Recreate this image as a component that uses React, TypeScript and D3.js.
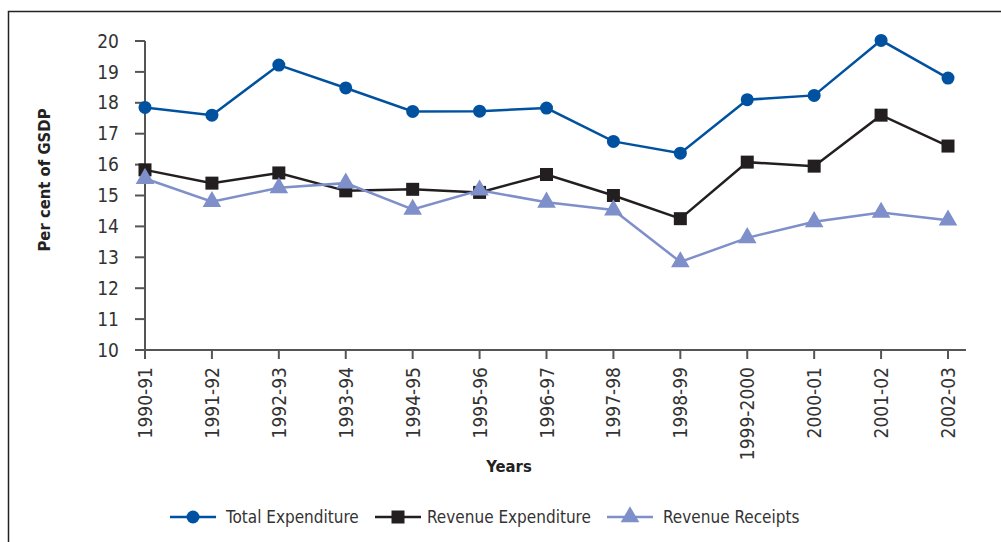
import React from "react";
import * as d3 from "d3";

const years = ["1990-91", "1991-92", "1992-93", "1993-94", "1994-95", "1995-96", "1996-97", "1997-98", "1998-99", "1999-2000", "2000-01", "2001-02", "2002-03"];
const totalExpenditure = [17.85, 17.6, 19.22, 18.48, 17.72, 17.73, 17.83, 16.75, 16.37, 18.1, 18.24, 20.02, 18.8];
const revenueExpenditure = [15.83, 15.4, 15.73, 15.15, 15.2, 15.1, 15.68, 15.0, 14.25, 16.08, 15.95, 17.6, 16.6];
const revenueReceipts = [15.55, 14.8, 15.25, 15.4, 14.55, 15.17, 14.78, 14.53, 12.85, 13.63, 14.15, 14.45, 14.2];
const yTicks = [10, 11, 12, 13, 14, 15, 16, 17, 18, 19, 20];

const font = "'DejaVu Sans Condensed', 'DejaVu Sans', sans-serif";

export default function App() {
  const W = 1001, H = 542;
  const x = d3.scalePoint<string>().domain(years).range([145, 948]);
  const y = d3.scaleLinear().domain([10, 20]).range([350, 41]);

  const series = [
    { name: "Total Expenditure", data: totalExpenditure, color: "#0052a0", shape: "circle", lx: 170, tx: 226 },
    { name: "Revenue Expenditure", data: revenueExpenditure, color: "#231f20", shape: "square", lx: 375, tx: 427 },
    { name: "Revenue Receipts", data: revenueReceipts, color: "#7e8fca", shape: "triangle", lx: 607, tx: 663 },
  ];

  const line = d3.line<number>().x((_, i) => x(years[i])!).y((d) => y(d));
  const tri = d3.symbol().type(d3.symbolTriangle).size(150)()!;

  const marker = (shape: string, cx: number, cy: number, color: string, key: any) => {
    if (shape === "circle") return <circle key={key} cx={cx} cy={cy} r={6.5} fill={color} />;
    if (shape === "square") return <rect key={key} x={cx - 6.5} y={cy - 6.5} width={13} height={13} fill={color} />;
    return <path key={key} d={tri} transform={`translate(${cx},${cy})`} fill={color} />;
  };

  return (
    <svg width={W} height={H} style={{ position: "absolute", left: 0, top: 0, background: "#fff" }} fontFamily={font}>
      <path d="M8.5,542 V11.5 H1001" fill="none" stroke="#222" strokeWidth={1.5} />

      {/* y axis */}
      <line x1={145} x2={145} y1={y(20)} y2={y(10)} stroke="#555" strokeWidth={2} />
      {yTicks.map((t) => (
        <g key={t}>
          <line x1={135} x2={145} y1={y(t)} y2={y(t)} stroke="#555" strokeWidth={2} />
          <text x={119} y={y(t)} dy="0.35em" textAnchor="end" fontSize={19} fill="#333">{t}</text>
        </g>
      ))}

      {/* x axis */}
      <line x1={135} x2={966} y1={350} y2={350} stroke="#555" strokeWidth={2} />
      {years.map((yr) => (
        <g key={yr}>
          <line x1={x(yr)} x2={x(yr)} y1={350} y2={359} stroke="#555" strokeWidth={2} />
          <text transform={`translate(${x(yr)! + 7},${367}) rotate(-90)`} textAnchor="end" fontSize={19} fill="#333">{yr}</text>
        </g>
      ))}

      <text x={509} y={472} textAnchor="middle" fontSize={16.5} fontWeight="bold" fill="#222">Years</text>
      <text transform="translate(50,180) rotate(-90)" textAnchor="middle" fontSize={16.5} fontWeight="bold" fill="#222">Per cent of GSDP</text>

      {series.map((s) => (
        <g key={s.name}>
          <path d={line(s.data)!} fill="none" stroke={s.color} strokeWidth={2.5} />
          {s.data.map((v, i) => marker(s.shape, x(years[i])!, y(v), s.color, i))}
        </g>
      ))}

      {/* legend */}
      {series.map((s) => (
        <g key={"lg" + s.name}>
          <line x1={s.lx} x2={s.lx + 46} y1={517} y2={517} stroke={s.color} strokeWidth={2.5} />
          {marker(s.shape, s.lx + 23, 517, s.color, "m")}
          <text x={s.tx} y={517} dy="0.35em" fontSize={17} fill="#333">{s.name}</text>
        </g>
      ))}
    </svg>
  );
}
